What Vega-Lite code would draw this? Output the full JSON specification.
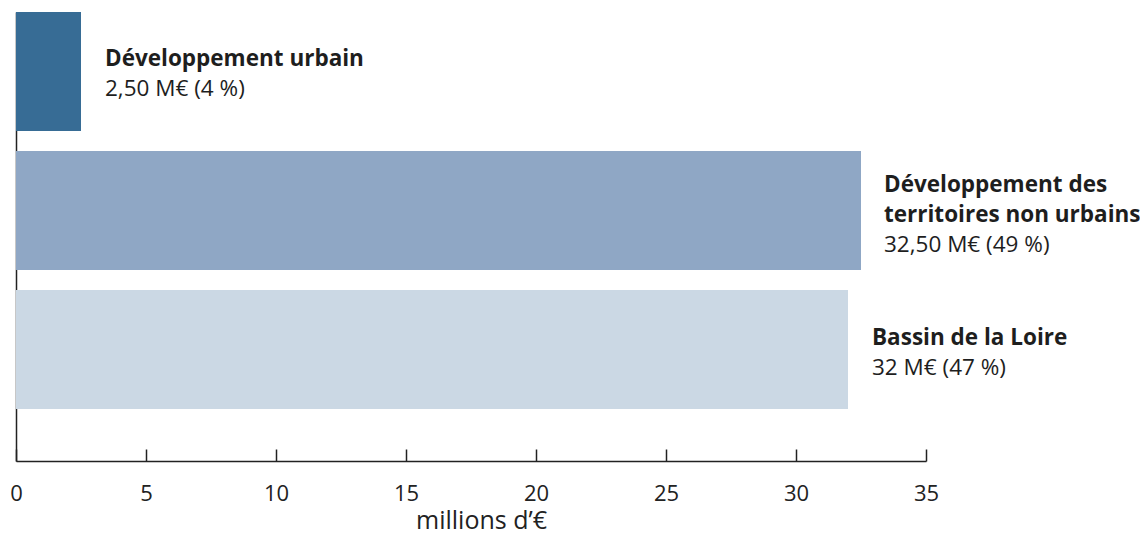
{
  "$schema": "https://vega.github.io/schema/vega-lite/v6.json",
  "autosize": "none",
  "width": 910,
  "height": 449,
  "padding": {"left": 16, "top": 12, "right": 214, "bottom": 74},
  "background": "white",
  "config": {"view": {"stroke": null}},
  "data": {
    "values": [
      {"name": "Développement urbain", "value": 2.5, "lines": 1, "title": ["Développement urbain"], "detail": "2,50 M€ (4 %)"},
      {"name": "Développement des territoires non urbains", "value": 32.5, "lines": 2, "title": ["Développement des", "territoires non urbains"], "detail": "32,50 M€ (49 %)"},
      {"name": "Bassin de la Loire", "value": 32, "lines": 1, "title": ["Bassin de la Loire"], "detail": "32 M€ (47 %)"}
    ]
  },
  "encoding": {
    "y": {
      "field": "name", "type": "nominal", "sort": null,
      "scale": {"paddingInner": 0.144, "paddingOuter": 0.187, "align": 0},
      "axis": {"title": null, "labels": false, "ticks": false, "domainColor": "#222222", "domainWidth": 1.5, "grid": false}
    },
    "x": {
      "field": "value", "type": "quantitative",
      "scale": {"domain": [0, 35], "nice": false},
      "axis": {
        "title": "millions d’€", "values": [0, 5, 10, 15, 20, 25, 30, 35],
        "grid": false, "domainColor": "#222222", "domainWidth": 1.5,
        "tickColor": "#222222", "tickWidth": 1.5, "tickSize": -12,
        "labelPadding": 34, "labelFont": "Open Sans", "labelFontSize": 22, "labelColor": "#222222",
        "titleFont": "Open Sans", "titleFontSize": 25, "titleFontWeight": "normal", "titleColor": "#222222",
        "titlePadding": 4, "titleX": 465, "titleAnchor": "middle", "labelFlush": false
      }
    }
  },
  "layer": [
    {
      "mark": {"type": "bar"},
      "encoding": {
        "color": {
          "field": "name", "type": "nominal", "sort": null,
          "scale": {"range": ["#376c95", "#8fa7c5", "#cbd8e4"]},
          "legend": null
        }
      }
    },
    {
      "transform": [{"filter": "datum.lines == 1"}],
      "mark": {"type": "text", "align": "left", "baseline": "alphabetic", "dx": 24, "dy": -5, "lineHeight": 30, "font": "Open Sans", "fontSize": 22.5, "fontWeight": "bold", "color": "#1e1e1e"},
      "encoding": {"text": {"field": "title"}}
    },
    {
      "transform": [{"filter": "datum.lines == 2"}],
      "mark": {"type": "text", "align": "left", "baseline": "alphabetic", "dx": 23, "dy": -19, "lineHeight": 30, "font": "Open Sans", "fontSize": 22.5, "fontWeight": "bold", "color": "#1e1e1e"},
      "encoding": {"text": {"field": "title"}}
    },
    {
      "transform": [{"filter": "datum.lines == 1"}],
      "mark": {"type": "text", "align": "left", "baseline": "alphabetic", "dx": 24, "dy": 25, "font": "Open Sans", "fontSize": 22.5, "fontWeight": "normal", "color": "#1e1e1e"},
      "encoding": {"text": {"field": "detail"}}
    },
    {
      "transform": [{"filter": "datum.lines == 2"}],
      "mark": {"type": "text", "align": "left", "baseline": "alphabetic", "dx": 23, "dy": 41, "font": "Open Sans", "fontSize": 22.5, "fontWeight": "normal", "color": "#1e1e1e"},
      "encoding": {"text": {"field": "detail"}}
    }
  ]
}
